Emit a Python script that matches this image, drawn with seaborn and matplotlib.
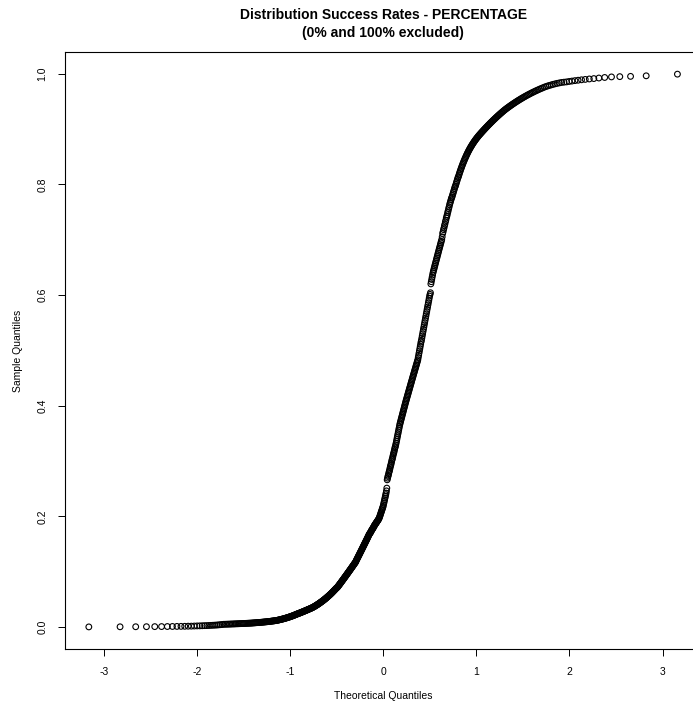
import numpy as np
import seaborn as sns
import matplotlib
matplotlib.use("Agg")
import matplotlib.pyplot as plt
from statistics import NormalDist

# success rates (fraction) in ascending order
rates_low = [
    0.0002, 0.0004, 0.0005, 0.0006, 0.0007, 0.0008, 0.0009, 0.0010, 0.0011, 0.0012,
    0.0013, 0.0015, 0.0016, 0.0018, 0.0020,
    0.0021, 0.0023, 0.0025, 0.0026, 0.0028, 0.0030, 0.0032, 0.0034, 0.0036, 0.0039,
    0.0042, 0.0045, 0.0049,
    0.0050, 0.0051, 0.0052, 0.0053, 0.0054, 0.0055, 0.0056, 0.0057, 0.0058, 0.0059,
    0.0060, 0.0061, 0.0062, 0.0063, 0.0064, 0.0065, 0.0066, 0.0067, 0.0068, 0.0069,
    0.0070,
    0.0071, 0.0072, 0.0074, 0.0075, 0.0076, 0.0078, 0.0079, 0.0080, 0.0082, 0.0083,
    0.0084, 0.0086, 0.0087, 0.0089, 0.0090, 0.0092, 0.0093, 0.0095, 0.0096, 0.0098,
    0.0100, 0.0101, 0.0103, 0.0105, 0.0107, 0.0109, 0.0110, 0.0112, 0.0114, 0.0116,
    0.0118, 0.0120,
    0.0123, 0.0126, 0.0129, 0.0132, 0.0135, 0.0138, 0.0141, 0.0144, 0.0147, 0.0150,
    0.0154, 0.0157, 0.0160, 0.0164, 0.0167, 0.0171, 0.0174, 0.0178, 0.0182, 0.0185,
    0.0189, 0.0193, 0.0197, 0.0201, 0.0205, 0.0209, 0.0213, 0.0218, 0.0222, 0.0226,
    0.0230, 0.0235, 0.0239, 0.0243, 0.0247, 0.0250,
    0.0254, 0.0258, 0.0262, 0.0266, 0.0270, 0.0274, 0.0278, 0.0282, 0.0286, 0.0290,
    0.0294, 0.0298, 0.0302, 0.0306, 0.0310, 0.0314, 0.0318, 0.0322, 0.0326, 0.0330,
    0.0334, 0.0338, 0.0342, 0.0346, 0.0350,
]

rates_mid_low = [
    0.0355, 0.0360, 0.0365, 0.0370, 0.0375, 0.0380, 0.0386, 0.0391, 0.0397, 0.0402,
    0.0408, 0.0413, 0.0419, 0.0425, 0.0431, 0.0437, 0.0443, 0.0449, 0.0455, 0.0461,
    0.0467, 0.0473, 0.0480, 0.0486, 0.0493, 0.0499, 0.0506, 0.0512, 0.0519, 0.0526,
    0.0533, 0.0540, 0.0547, 0.0554, 0.0561, 0.0568, 0.0575, 0.0582, 0.0590, 0.0597,
    0.0605, 0.0612, 0.0620, 0.0628, 0.0636, 0.0644, 0.0652, 0.0660, 0.0668, 0.0676,
    0.0684, 0.0692, 0.0700, 0.0707, 0.0714, 0.0720,
    0.073, 0.074, 0.075, 0.076, 0.077, 0.078, 0.079, 0.080, 0.081, 0.082,
    0.083, 0.084, 0.085, 0.086, 0.087, 0.088, 0.089, 0.090, 0.091, 0.092,
    0.093, 0.094, 0.095, 0.096, 0.097, 0.098, 0.099, 0.100, 0.101, 0.102,
    0.103, 0.104, 0.105, 0.106, 0.107, 0.108, 0.109, 0.110, 0.111, 0.112,
    0.113, 0.114, 0.115, 0.116, 0.117, 0.118, 0.120,
    0.1213, 0.1227, 0.1240, 0.1254, 0.1268, 0.1282, 0.1295, 0.1309, 0.1323, 0.1337,
    0.1350, 0.1364, 0.1378, 0.1392, 0.1405, 0.1419, 0.1433, 0.1447, 0.1460, 0.1474,
    0.1488, 0.1502, 0.1515, 0.1529, 0.1543, 0.1557, 0.1570, 0.1584, 0.1598, 0.1612,
    0.1626, 0.1640, 0.1655, 0.1670,
    0.168, 0.169, 0.170, 0.171, 0.1725, 0.1735, 0.175, 0.176, 0.177, 0.178,
    0.179, 0.1805, 0.1815, 0.183, 0.184, 0.185, 0.186, 0.187, 0.188, 0.189,
    0.190, 0.191, 0.192, 0.193, 0.194, 0.195, 0.1965, 0.198,
]

rates_mid = [
    0.200, 0.202, 0.204, 0.206, 0.208, 0.210, 0.212, 0.214, 0.216, 0.218,
    0.221, 0.224, 0.227, 0.230, 0.233, 0.236, 0.239, 0.242, 0.246, 0.251,
    0.266, 0.269, 0.272, 0.274, 0.277, 0.280, 0.282, 0.285, 0.288, 0.291,
    0.293, 0.296, 0.299, 0.302, 0.304, 0.307, 0.310, 0.313, 0.315, 0.318,
    0.321, 0.324, 0.326, 0.329, 0.332,
    0.3354, 0.3388, 0.3422, 0.3456, 0.349, 0.3524, 0.3558, 0.3592, 0.3626, 0.366,
    0.3686, 0.3712, 0.3738, 0.3764, 0.379, 0.3816, 0.3842, 0.3868, 0.3894, 0.392,
    0.3946, 0.3972, 0.3998, 0.4024, 0.405, 0.4075, 0.410,
    0.4124, 0.4148, 0.4173, 0.4197, 0.4221, 0.4246, 0.427, 0.4294, 0.4319, 0.4343,
    0.4367, 0.4392, 0.4416, 0.444, 0.4465, 0.4489, 0.4513, 0.4538, 0.4562, 0.4586,
    0.461, 0.4635, 0.4659, 0.4683, 0.4708, 0.4732, 0.4756, 0.4781, 0.4805, 0.483,
    0.487, 0.491, 0.495, 0.499, 0.503, 0.507, 0.511, 0.515, 0.518, 0.522,
    0.526, 0.530, 0.534, 0.538, 0.542, 0.546, 0.550, 0.554, 0.558, 0.562,
    0.566, 0.570, 0.574, 0.578, 0.582, 0.586, 0.590, 0.594, 0.598, 0.601, 0.604,
]

rates_high = [
    0.620, 0.624, 0.628, 0.632, 0.636, 0.640,
    0.643, 0.646, 0.649, 0.652, 0.655, 0.658, 0.661, 0.664, 0.667, 0.670,
    0.673, 0.676, 0.679, 0.682, 0.685, 0.688, 0.691, 0.694, 0.697, 0.700,
    0.705, 0.711,
    0.714, 0.718, 0.721, 0.725, 0.728, 0.732, 0.735, 0.739, 0.742, 0.745,
    0.749, 0.752, 0.756, 0.759, 0.763, 0.766,
    0.769, 0.772, 0.775, 0.777, 0.780, 0.783, 0.786, 0.789, 0.792, 0.795,
    0.797, 0.800, 0.803, 0.806, 0.809, 0.812, 0.814, 0.817, 0.820,
    0.8228, 0.8255, 0.8282, 0.8308, 0.8334, 0.8359, 0.8384, 0.8408, 0.8432, 0.8455,
    0.8478, 0.8500, 0.8522, 0.8543, 0.8564, 0.8584, 0.8604, 0.8623,
    0.8642, 0.8660, 0.8678, 0.8695, 0.8712, 0.8729, 0.8745, 0.8761, 0.8777, 0.8792,
    0.8807, 0.8822, 0.8836, 0.8850, 0.8864, 0.8878, 0.8891,
    0.8904, 0.8917, 0.8930, 0.8943, 0.8956, 0.8969, 0.8982, 0.8995, 0.9008, 0.9021,
    0.9034, 0.9047, 0.9060, 0.9073, 0.9086, 0.9099, 0.9112, 0.9125, 0.9138,
    0.9151, 0.9164, 0.9177, 0.9190, 0.9203, 0.9216, 0.9229, 0.9242, 0.9255, 0.9268,
    0.9281, 0.9294, 0.9307,
    0.9320, 0.9333, 0.9346, 0.9358, 0.9370, 0.9382, 0.9394, 0.9406, 0.9418, 0.9430,
    0.9442, 0.9454, 0.9466, 0.9478, 0.9490, 0.9502, 0.9514, 0.9526,
    0.9538, 0.9550, 0.9562, 0.9574, 0.9586, 0.9598, 0.9610, 0.9622, 0.9634, 0.9646,
    0.9658, 0.9670, 0.9682, 0.9694, 0.9706, 0.9718, 0.9730, 0.9742,
    0.9754, 0.9766, 0.9776, 0.9786, 0.9796, 0.9806, 0.9815, 0.9824, 0.9832, 0.9840,
    0.9845, 0.985,
    0.9858, 0.9865, 0.9873, 0.988, 0.9888, 0.9895, 0.9903, 0.991,
    0.992, 0.993, 0.994, 0.9945, 0.995, 0.996, 0.999,
]

sample = np.sort(np.array(rates_low + rates_mid_low + rates_mid + rates_high))
n = len(sample)

# theoretical normal quantiles (same plotting positions as R's qqnorm)
nd = NormalDist()
theo = np.array([nd.inv_cdf((i - 0.5) / n) for i in range(1, n + 1)])

sns.set_style("white")
plt.rcParams['font.family'] = ['Liberation Sans', 'DejaVu Sans']
plt.rcParams['axes.unicode_minus'] = False
plt.rcParams['text.color'] = 'black'
plt.rcParams['axes.labelcolor'] = 'black'
plt.rcParams['xtick.color'] = 'black'
plt.rcParams['ytick.color'] = 'black'

fig = plt.figure(figsize=(6.93, 7.09), dpi=100)
ax = fig.add_axes([0.0942, 0.0846, 0.9173, 0.842])

sns.scatterplot(x=theo, y=sample, ax=ax, marker='o', s=17,
                facecolor='none', edgecolor='black', linewidth=0.8)

# R style 4% padding
xr = theo.max() - theo.min()
yr = sample.max() - sample.min()
ax.set_xlim(theo.min() - 0.04 * xr, theo.max() + 0.04 * xr)
ax.set_ylim(sample.min() - 0.04 * yr, sample.max() + 0.04 * yr)

ax.set_xticks([-3, -2, -1, 0, 1, 2, 3])
ax.set_yticks([0.0, 0.2, 0.4, 0.6, 0.8, 1.0])
ax.set_yticklabels(['0.0', '0.2', '0.4', '0.6', '0.8', '1.0'], rotation=90, va='center')

for s in ax.spines.values():
    s.set_color('black')
    s.set_linewidth(0.8)
ax.tick_params(axis='both', direction='out', length=5, width=0.7, color='black',
               labelcolor='black', labelsize=7.5, pad=8, bottom=True, left=True)

ax.set_xlabel('Theoretical Quantiles', fontsize=7.5, labelpad=10, color='black')
ax.set_ylabel('Sample Quantiles', fontsize=7.5, labelpad=10, color='black')
ax.set_title('Distribution Success Rates - PERCENTAGE\n(0% and 100% excluded)',
             fontsize=10, fontweight='bold', pad=11, linespacing=1.3, color='black')

fig.savefig('out.png', dpi=100)
